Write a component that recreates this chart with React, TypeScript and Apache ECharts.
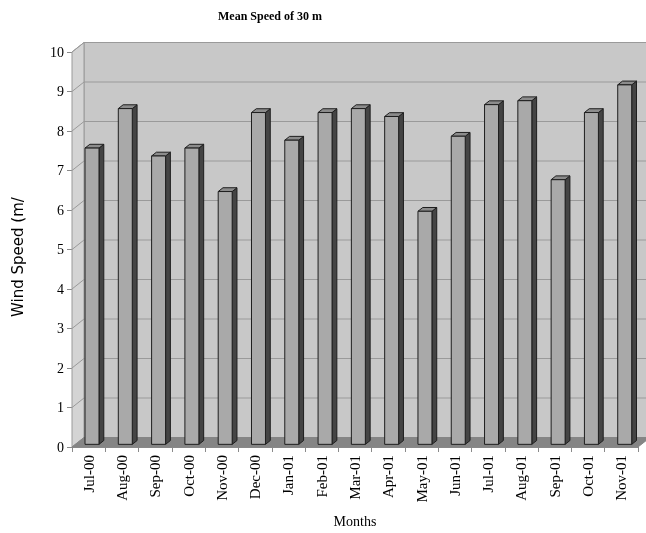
import React, { useEffect, useRef } from "react";
import * as echarts from "echarts";

const MONTHS = [
  "Jul-00", "Aug-00", "Sep-00", "Oct-00", "Nov-00", "Dec-00", "Jan-01", "Feb-01", "Mar-01",
  "Apr-01", "May-01", "Jun-01", "Jul-01", "Aug-01", "Sep-01", "Oct-01", "Nov-01",
];
const MEAN_SPEED = [7.5, 8.5, 7.3, 7.5, 6.4, 8.4, 7.7, 8.4, 8.5, 8.3, 5.9, 7.8, 8.6, 8.7, 6.7, 8.4, 9.1];
const Y_TICKS = [1, 2, 3, 4, 5, 6, 7, 8, 9, 10];

// Depth vector of the pseudo-3D box, in pixels
const DX = 12;
const DY = -9.5;
// Bars sit between these depth fractions
const BAR_FRONT = 0.28;
const BAR_BACK = 0.68;
const BAR_WIDTH_RATIO = 0.42;

const FONT = "'Liberation Serif', 'DejaVu Serif', serif";

export default function App() {
  const ref = useRef<HTMLDivElement>(null);

  useEffect(() => {
    if (!ref.current) return;
    const chart = echarts.init(ref.current, undefined, { renderer: "svg" });

    const renderBox = (params: any, api: any) => {
      const cs = params.coordSys;
      const x0 = cs.x;
      const x1 = cs.x + cs.width;
      const y0 = api.coord([0, 0])[1];
      const yTop = api.coord([0, 10])[1];
      const children: any[] = [];
      // back wall
      children.push({
        type: "polygon",
        shape: {
          points: [
            [x0 + DX, yTop + DY],
            [x1 + DX, yTop + DY],
            [x1 + DX, y0 + DY],
            [x0 + DX, y0 + DY],
          ],
        },
        style: { fill: "#c8c8c8", stroke: "#9a9a9a", lineWidth: 1 },
      });
      // side wall
      children.push({
        type: "polygon",
        shape: {
          points: [
            [x0, yTop],
            [x0 + DX, yTop + DY],
            [x0 + DX, y0 + DY],
            [x0, y0],
          ],
        },
        style: { fill: "#d4d4d4", stroke: "#9a9a9a", lineWidth: 1 },
      });
      // floor
      children.push({
        type: "polygon",
        shape: {
          points: [
            [x0, y0],
            [x1, y0],
            [x1 + DX, y0 + DY],
            [x0 + DX, y0 + DY],
          ],
        },
        style: { fill: "#858585", stroke: "#858585", lineWidth: 1 },
      });
      // grid lines on walls
      Y_TICKS.forEach((v) => {
        const y = api.coord([0, v])[1];
        children.push({
          type: "line",
          shape: { x1: x0 + DX, y1: y + DY, x2: x1 + DX, y2: y + DY },
          style: { stroke: "#9a9a9a", lineWidth: 1 },
        });
        children.push({
          type: "line",
          shape: { x1: x0, y1: y, x2: x0 + DX, y2: y + DY },
          style: { stroke: "#9a9a9a", lineWidth: 1 },
        });
      });
      return { type: "group", children };
    };

    const renderBar = (params: any, api: any) => {
      const idx = api.value(0);
      const val = api.value(1);
      const base = api.coord([idx, 0]);
      const top = api.coord([idx, val]);
      const band = api.size([1, 0])[0];
      const w = band * BAR_WIDTH_RATIO;
      const cx = base[0] + BAR_FRONT * DX;
      const left = cx - w / 2;
      const right = cx + w / 2;
      const bottomY = base[1] + BAR_FRONT * DY;
      const topY = top[1] + BAR_FRONT * DY;
      const ddx = (BAR_BACK - BAR_FRONT) * DX;
      const ddy = (BAR_BACK - BAR_FRONT) * DY;
      const stroke = { stroke: "#1e1e1e", lineWidth: 1, lineJoin: "round" };
      return {
        type: "group",
        children: [
          {
            type: "polygon",
            shape: {
              points: [
                [right, topY],
                [right + ddx, topY + ddy],
                [right + ddx, bottomY + ddy],
                [right, bottomY],
              ],
            },
            style: { fill: "#444444", ...stroke },
          },
          {
            type: "polygon",
            shape: {
              points: [
                [left, topY],
                [right, topY],
                [right + ddx, topY + ddy],
                [left + ddx, topY + ddy],
              ],
            },
            style: { fill: "#8c8c8c", ...stroke },
          },
          {
            type: "rect",
            shape: { x: left, y: topY, width: w, height: bottomY - topY },
            style: { fill: "#a9a9a9", ...stroke },
          },
        ],
      };
    };

    chart.setOption({
      animation: false,
      textStyle: { fontFamily: FONT },
      title: {
        text: "Mean Speed of 30 m",
        left: 213,
        top: 5,
        textStyle: { fontFamily: FONT, fontSize: 12, fontWeight: "bold", color: "#000" },
      },
      grid: { left: 72, right: 8, top: 52, bottom: 85 },
      xAxis: {
        type: "category",
        data: MONTHS,
        boundaryGap: true,
        name: "Months",
        nameLocation: "middle",
        nameGap: 67,
        nameTextStyle: { fontFamily: FONT, fontSize: 14, color: "#000" },
        axisLine: { show: true, lineStyle: { color: "#8a8a8a", width: 1 } },
        axisTick: { show: true, interval: 0, length: 5, lineStyle: { color: "#8a8a8a" } },
        axisLabel: {
          rotate: 90,
          interval: 0,
          margin: 8,
          fontSize: 15,
          color: "#000",
          fontFamily: FONT,
        },
        splitLine: { show: false },
      },
      yAxis: {
        type: "value",
        min: 0,
        max: 10,
        interval: 1,
        axisLine: { show: true, lineStyle: { color: "#8a8a8a", width: 1 } },
        axisTick: { show: true, length: 5, lineStyle: { color: "#8a8a8a" } },
        axisLabel: { margin: 8, fontSize: 14, color: "#000", fontFamily: FONT },
        splitLine: { show: false },
      },
      graphic: [
        {
          type: "text",
          x: 18,
          y: 257,
          rotation: Math.PI / 2,
          style: {
            text: "Wind Speed (m/",
            fontFamily: "'DejaVu Sans', sans-serif",
            fontSize: 15,
            fill: "#000",
            align: "center",
            verticalAlign: "middle",
          },
        },
      ],
      series: [
        {
          type: "custom",
          name: "box",
          z: 1,
          silent: true,
          data: [[0, 0]],
          encode: { x: 0, y: 1 },
          renderItem: renderBox,
        },
        {
          type: "custom",
          name: "Mean Speed",
          z: 2,
          data: MEAN_SPEED.map((v, i) => [i, v]),
          encode: { x: 0, y: 1 },
          renderItem: renderBar,
        },
      ],
    });

    return () => chart.dispose();
  }, []);

  return (
    <div
      ref={ref}
      style={{ position: "fixed", left: 0, top: 0, width: 646, height: 533 }}
    />
  );
}
